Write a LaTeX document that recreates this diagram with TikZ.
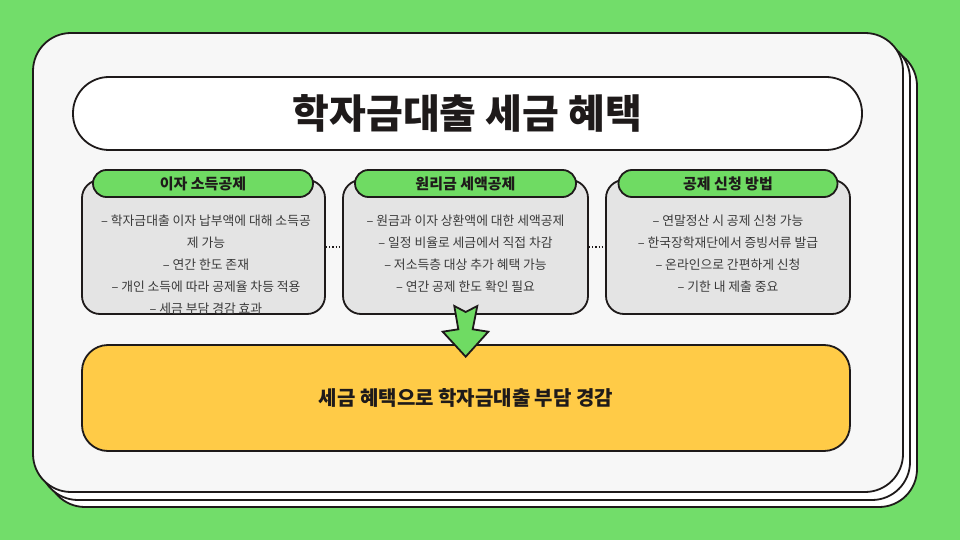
\documentclass[tikz,border=0pt]{standalone}
\usepackage{fontspec}
\setmainfont{Noto Sans CJK KR}
\definecolor{bggreen}{HTML}{72DD6A}
\definecolor{cardfill}{HTML}{F7F7F7}
\definecolor{boxfill}{HTML}{E4E4E4}
\definecolor{hdrgreen}{HTML}{6FDB63}
\definecolor{yel}{HTML}{FFCB47}
\definecolor{bodytext}{HTML}{3A3A3A}
\definecolor{ink}{HTML}{1E1A1A}
\begin{document}
\begin{tikzpicture}[x=1pt,y=-1pt,
  layer/.style={draw=ink, line width=1.8pt, fill=white, rounded corners=38pt,
    minimum width=870pt, minimum height=459pt, inner sep=0pt},
  titlebox/.style={draw=ink, line width=1.8pt, fill=white, rounded corners=36pt,
    minimum width=789pt, minimum height=73pt, inner sep=0pt,
    font=\fontsize{40}{44}\selectfont\bfseries, text=ink},
  infobox/.style={draw=ink, line width=1.8pt, fill=boxfill, rounded corners=18pt,
    minimum height=134pt, inner sep=0pt},
  header/.style={draw=ink, line width=1.8pt, fill=hdrgreen, rounded corners=13.5pt,
    minimum height=27pt, inner sep=0pt, font=\fontsize{15}{17}\selectfont\bfseries, text=ink},
  bodytxt/.style={align=center, inner sep=0pt, text=bodytext,
    font=\fontsize{12.8}{22}\selectfont},
  conn/.style={draw=ink, dotted, line width=1.2pt},
  result/.style={draw=ink, line width=1.8pt, fill=yel, rounded corners=26pt,
    minimum width=768pt, minimum height=106pt, inner sep=0pt,
    font=\fontsize{20}{24}\selectfont\bfseries, text=ink},
  arrowshape/.style={draw=ink, line width=1.8pt, fill=hdrgreen, line join=miter}
]
\useasboundingbox[fill=bggreen] (0,0) rectangle (960,540);

% stacked card
\node[layer] (card3) at (482,277.5) {};
\node[layer] (card2) at (475,270.5) {};
\node[layer, fill=cardfill] (card) at (468,262.5) {};

% title
\node[titlebox] (title) at (467.5,113.5) {학자금대출 세금 혜택};

% boxes
\node[infobox, minimum width=243pt] (box1) at (203.5,247) {};
\node[infobox, minimum width=245pt] (box2) at (465.5,247) {};
\node[infobox, minimum width=244pt] (box3) at (728,247) {};

\draw[conn] (box1.east) -- (box2.west);
\draw[conn] (box2.east) -- (box3.west);

\begin{scope}
  \clip[rounded corners=17pt] (83,181) rectangle (324,313);
  \node[bodytxt] (t1) at (206,265) {– 학자금대출 이자 납부액에 대해 소득공\\제 가능\\– 연간 한도 존재\\– 개인 소득에 따라 공제율 차등 적용\\– 세금 부담 경감 효과};
\end{scope}
\node[bodytxt] (t2) at (465.5,254) {– 원금과 이자 상환액에 대한 세액공제\\– 일정 비율로 세금에서 직접 차감\\– 저소득층 대상 추가 혜택 가능\\– 연간 공제 한도 확인 필요};
\node[bodytxt] (t3) at (728,254) {– 연말정산 시 공제 신청 가능\\– 한국장학재단에서 증빙서류 발급\\– 온라인으로 간편하게 신청\\– 기한 내 제출 중요};

% headers
\node[header, minimum width=220pt] (h1) at (203,183.5) {이자 소득공제};
\node[header, minimum width=221pt] (h2) at (465.5,183.5) {원리금 세액공제};
\node[header, minimum width=219pt] (h3) at (728,183.5) {공제 신청 방법};

% result
\node[result] (res) at (466,398) {세금 혜택으로 학자금대출 부담 경감};

% arrow
\draw[arrowshape] (454.3,306) -- (465.7,312) -- (477.3,306) -- (472.7,329.3)
  -- (488.3,331.7) -- (465.7,356.7) -- (442.7,331.7) -- (458.3,329.3) -- cycle;
\end{tikzpicture}
\end{document}
